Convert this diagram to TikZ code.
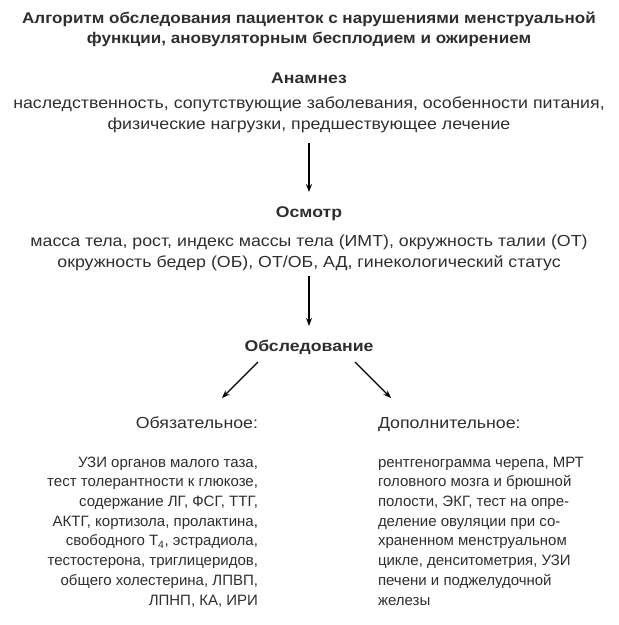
\documentclass[tikz,border=0pt]{standalone}
\usepackage{fontspec}
\setmainfont{Liberation Sans}
\newfontfamily\titlefont[FakeStretch=1.10]{Liberation Sans}
\newfontfamily\headfont[FakeStretch=1.14]{Liberation Sans}
\newfontfamily\widefont[FakeStretch=1.11]{Liberation Sans}
\usetikzlibrary{arrows.meta}
\definecolor{txt}{HTML}{2E2E2E}
\begin{document}
\begin{tikzpicture}[x=1pt,y=-1pt,
  every node/.style={inner sep=0pt,outer sep=0pt,text=txt},
  ttl/.style={font=\titlefont\fontsize{15.5}{20}\selectfont\bfseries,align=center},
  head/.style={font=\headfont\fontsize{15.5}{20}\selectfont\bfseries,align=center},
  body/.style={font=\widefont\fontsize{16}{21}\selectfont,align=center},
  col/.style={font=\fontsize{15}{19.7}\selectfont},
  lab/.style={font=\widefont\fontsize{16}{21}\selectfont},
  arr/.style={-{Stealth[length=8pt,width=6pt]},line width=1.4pt,black}]
\useasboundingbox (0,0) rectangle (619,625);
\node[ttl,anchor=base] (title) at (309,43) {Алгоритм обследования пациенток с нарушениями менструальной\\функции, ановуляторным бесплодием и ожирением};
\node[head,anchor=base] (anam) at (309,83) {Анамнез};
\node[body,anchor=base] (anamt) at (309,129) {наследственность, сопутствующие заболевания, особенности питания,\\физические нагрузки, предшествующее лечение};
\node[head,anchor=base] (osm) at (309,217) {Осмотр};
\node[body,anchor=base] (osmt) at (309,267) {масса тела, рост, индекс массы тела (ИМТ), окружность талии (ОТ)\\окружность бедер (ОБ), ОТ/ОБ, АД, гинекологический статус};
\node[head,anchor=base] (obs) at (309,351) {Обследование};
\node[lab,anchor=base east] (req) at (258,428) {Обязательное:};
\node[lab,anchor=base west] (add) at (378,428) {Дополнительное:};
\node[col,align=right,anchor=base east] (reqt) at (258,605) {УЗИ органов малого таза,\\тест толерантности к глюкозе,\\содержание ЛГ, ФСГ, ТТГ,\\АКТГ, кортизола, пролактина,\\свободного Т\textsubscript{4}, эстрадиола,\\тестостерона, триглицеридов,\\общего холестерина, ЛПВП,\\ЛПНП, КА, ИРИ};
\node[col,align=left,anchor=base west] (addt) at (378,605) {рентгенограмма черепа, МРТ\\головного мозга и брюшной\\полости, ЭКГ, тест на опре-\\деление овуляции при со-\\храненном менструальном\\цикле, денситометрия, УЗИ\\печени и поджелудочной\\железы};
\coordinate (a1s) at (309,143); \coordinate (a1e) at (309,192);
\coordinate (a2s) at (309,276); \coordinate (a2e) at (309,326);
\draw[arr] (a1s) -- (a1e);
\draw[arr] (a2s) -- (a2e);
\coordinate (l1s) at (258,362); \coordinate (l1e) at (222,398);
\coordinate (r1s) at (355,362); \coordinate (r1e) at (391,398);
\draw[arr] (l1s) -- (l1e);
\draw[arr] (r1s) -- (r1e);
\end{tikzpicture}
\end{document}
